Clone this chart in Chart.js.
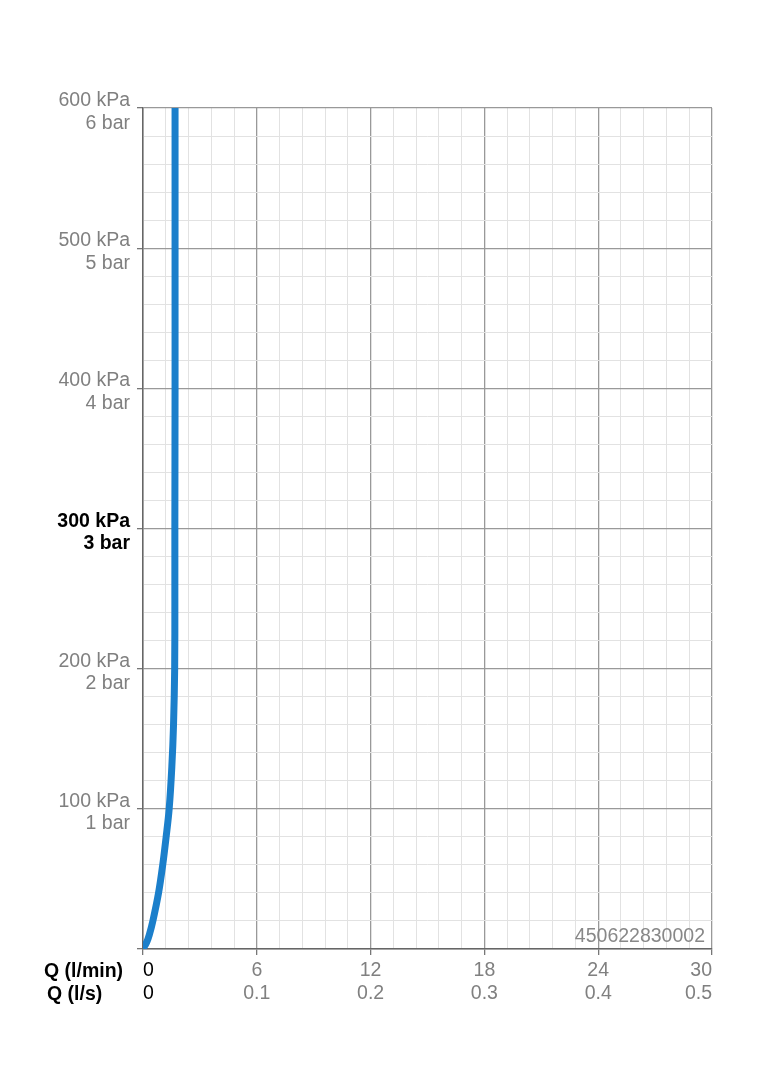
<!DOCTYPE html>
<html>
<head>
<meta charset="utf-8">
<script src="https://cdn.jsdelivr.net/npm/chart.js@4/dist/chart.umd.min.js"></script>
<style>
  html, body { margin: 0; padding: 0; background: #fff; }
  #wrap { width: 763px; height: 1080px; }
</style>
</head>
<body>
<div id="wrap"><canvas id="grafico"></canvas></div>
<script>
// Dados (pressão em kPa, vazão em l/min)
var pressao = [0, 5, 10, 20, 40, 60, 80, 100, 130, 160, 200, 250, 300, 400, 500, 600];
var vazao   = [0, 0.2, 0.33, 0.52, 0.82, 1.04, 1.22, 1.38, 1.52, 1.61, 1.67, 1.68, 1.68, 1.69, 1.69, 1.69];

// Rótulos dos eixos
var rotulosY = { 100: ['100 kPa', '1 bar'], 200: ['200 kPa', '2 bar'], 300: ['300 kPa', '3 bar'],
                 400: ['400 kPa', '4 bar'], 500: ['500 kPa', '5 bar'], 600: ['600 kPa', '6 bar'] };
var rotulosX = { 0: ['0', '0'], 6: ['6', '0.1'], 12: ['12', '0.2'], 18: ['18', '0.3'],
                 24: ['24', '0.4'], 30: ['30', '0.5'] };
var codigo = '450622830002';

var pontos = [];
for (let i = 0; i < pressao.length; i++) {
    pontos.push({ x: vazao[i], y: pressao[i] });
}

function ehMaior(v, passo) {
    return Math.abs(v / passo - Math.round(v / passo)) < 1e-6;
}

// Textos extras: "Q (l/min)", "Q (l/s)" e o código
var textosExtras = {
    id: 'textosExtras',
    afterDraw: function(chart) {
        var ctx = chart.ctx;
        var area = chart.chartArea;
        ctx.save();
        ctx.fillStyle = '#000';
        ctx.font = 'bold 19.5px "Liberation Sans", Arial, sans-serif';
        ctx.textAlign = 'left';
        ctx.textBaseline = 'alphabetic';
        ctx.fillText('Q (l/min)', 44, 977);
        ctx.fillText('Q (l/s)', 47, 1000);
        ctx.fillStyle = '#888';
        ctx.font = '19.5px "Liberation Sans", Arial, sans-serif';
        ctx.textAlign = 'right';
        ctx.fillText(codigo, area.right - 7, area.bottom - 7);
        ctx.restore();
    }
};

new Chart('grafico', {
    type: 'scatter',
    data: {
        datasets: [{
            data: pontos,
            showLine: true,
            borderColor: '#1b7fcb',
            borderWidth: 7,
            pointRadius: 0,
            tension: 0.35,
            borderCapStyle: 'butt'
        }]
    },
    options: {
        responsive: true,
        maintainAspectRatio: false,
        animation: false,
        layout: { padding: { top: 108, right: 51, bottom: 0, left: 0 } },
        plugins: { legend: { display: false }, tooltip: { enabled: false } },
        scales: {
            x: {
                type: 'linear',
                min: 0, max: 30,
                afterFit: function(scale) { scale.height = 131; },
                border: { color: '#666', width: 1.5 },
                grid: {
                    color: function(c) { return ehMaior(c.tick.value, 6) ? '#999' : '#e2e2e2'; },
                    tickColor: function(c) { return ehMaior(c.tick.value, 6) ? '#777' : 'rgba(0,0,0,0)'; },
                    lineWidth: function(c) { return ehMaior(c.tick.value, 6) ? 1.3 : 1; },
                    tickLength: 6
                },
                ticks: {
                    stepSize: 1.2,
                    autoSkip: false,
                    maxRotation: 0,
                    align: 'inner',
                    padding: 4,
                    font: { family: '"Liberation Sans", Arial, sans-serif', size: 19.5, lineHeight: 1.18 },
                    color: function(c) { return c.tick.value === 0 ? '#000' : '#808080'; },
                    callback: function(v) {
                        if (!ehMaior(v, 6)) return '';
                        return rotulosX[Math.round(v)];
                    }
                }
            },
            y: {
                type: 'linear',
                min: 0, max: 600,
                afterFit: function(scale) { scale.width = 143; },
                border: { color: '#666', width: 1.5 },
                grid: {
                    color: function(c) { return ehMaior(c.tick.value, 100) ? '#999' : '#e2e2e2'; },
                    tickColor: function(c) { return ehMaior(c.tick.value, 100) ? '#777' : 'rgba(0,0,0,0)'; },
                    lineWidth: function(c) { return ehMaior(c.tick.value, 100) ? 1.3 : 1; },
                    tickLength: 6
                },
                ticks: {
                    stepSize: 20,
                    autoSkip: false,
                    padding: 7,
                    labelOffset: 4,
                    font: function(c) {
                        var negrito = c.tick && c.tick.value === 300;
                        return { family: '"Liberation Sans", Arial, sans-serif', size: 19.5, lineHeight: 1.15,
                                 weight: negrito ? 'bold' : 'normal' };
                    },
                    color: function(c) { return c.tick.value === 300 ? '#000' : '#808080'; },
                    callback: function(v) {
                        var k = Math.round(v);
                        if (!ehMaior(v, 100) || k === 0) return '';
                        return rotulosY[k];
                    }
                }
            }
        }
    },
    plugins: [textosExtras]
});
</script>
</body>
</html>
